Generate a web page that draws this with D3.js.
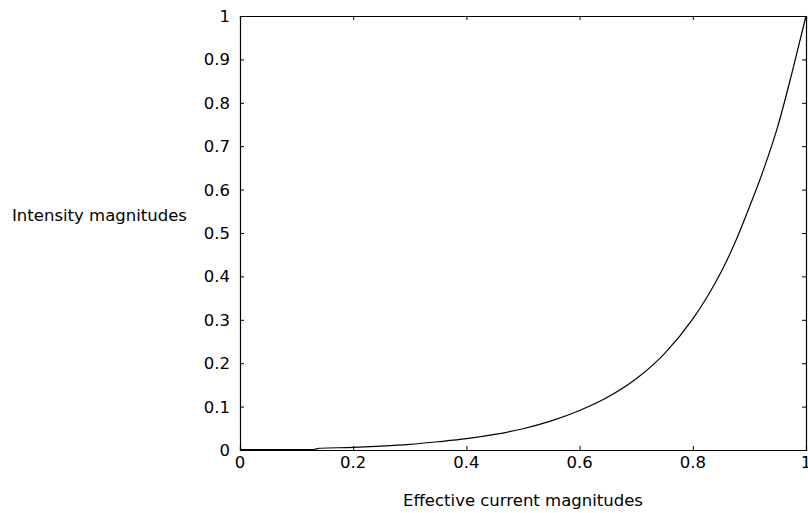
<!doctype html>
<html>
<head>
<meta charset="utf-8">
<script src="https://d3js.org/d3.v7.min.js"></script>
<style>
 body { margin: 0; background: #fff; }
 text { font-family: "DejaVu Sans", sans-serif; fill: #000; }
</style>
</head>
<body>
<script>
// data
var current = [0, 0.05, 0.1, 0.13, 0.14, 0.2, 0.25, 0.3, 0.35, 0.4, 0.45, 0.5, 0.55, 0.6, 0.65, 0.7,
               0.75, 0.8, 0.825, 0.85, 0.875, 0.9, 0.925, 0.95, 0.975, 1];
var intensity = [0.001, 0.001, 0.001, 0.001, 0.004, 0.006, 0.009, 0.013, 0.019, 0.026, 0.036, 0.049,
                 0.067, 0.091, 0.122, 0.164, 0.222, 0.302, 0.352, 0.41, 0.479, 0.56, 0.646, 0.745, 0.868, 1.0];
var xTicks = [0, 0.2, 0.4, 0.6, 0.8, 1];
var yTicks = [0, 0.1, 0.2, 0.3, 0.4, 0.5, 0.6, 0.7, 0.8, 0.9, 1];
var xTitle = "Effective current magnitudes";
var yTitle = "Intensity magnitudes";

var W = 808, H = 513;
var pLeft = 240, pRight = 806, pTop = 16, pBottom = 450;
var fs = "16.5px";

var svg = d3.select("body").append("svg")
    .attr("width", W)
    .attr("height", H);

var x = d3.scaleLinear().domain([0, 1]).range([pLeft, pRight]);
var y = d3.scaleLinear().domain([0, 1]).range([pBottom, pTop]);

var fmt = function(d) { return d === 0 || d === 1 ? String(d) : d3.format(".1f")(d); };

// axes, ticks pointing inward on all four sides
var gB = svg.append("g").attr("transform", "translate(0," + pBottom + ")")
    .call(d3.axisTop(x).tickValues(xTicks).tickSize(4).tickFormat(""));
var gT = svg.append("g").attr("transform", "translate(0," + pTop + ")")
    .call(d3.axisBottom(x).tickValues(xTicks).tickSize(4).tickFormat(""));
var gL = svg.append("g").attr("transform", "translate(" + pLeft + ",0)")
    .call(d3.axisRight(y).tickValues(yTicks).tickSize(4).tickFormat(""));
var gR = svg.append("g").attr("transform", "translate(" + pRight + ",0)")
    .call(d3.axisLeft(y).tickValues(yTicks).tickSize(4).tickFormat(""));

[gB, gT, gL, gR].forEach(function(g) {
  g.selectAll(".domain").attr("stroke", "#000").attr("stroke-width", 1.2);
  g.selectAll(".tick line").attr("stroke", "#000");
});

// tick labels
svg.append("g").selectAll("text").data(xTicks).join("text")
    .attr("x", d => x(d))
    .attr("y", pBottom + 18)
    .attr("text-anchor", "middle")
    .style("font-size", fs)
    .text(fmt);

svg.append("g").selectAll("text").data(yTicks).join("text")
    .attr("x", pLeft - 10)
    .attr("y", d => y(d) + 6)
    .attr("text-anchor", "end")
    .style("font-size", fs)
    .text(fmt);

// titles
svg.append("text")
    .attr("x", (pLeft + pRight) / 2)
    .attr("y", 506)
    .attr("text-anchor", "middle")
    .style("font-size", fs)
    .text(xTitle);

svg.append("text")
    .attr("x", 12)
    .attr("y", 221)
    .style("font-size", fs)
    .text(yTitle);

// curve
var line = d3.line()
    .x(function(d, i) { return x(current[i]); })
    .y(function(d) { return y(d); })
    .curve(d3.curveMonotoneX);

svg.append("path")
    .datum(intensity)
    .attr("d", line)
    .attr("fill", "none")
    .attr("stroke", "#000")
    .attr("stroke-width", 1.2);
</script>
</body>
</html>
